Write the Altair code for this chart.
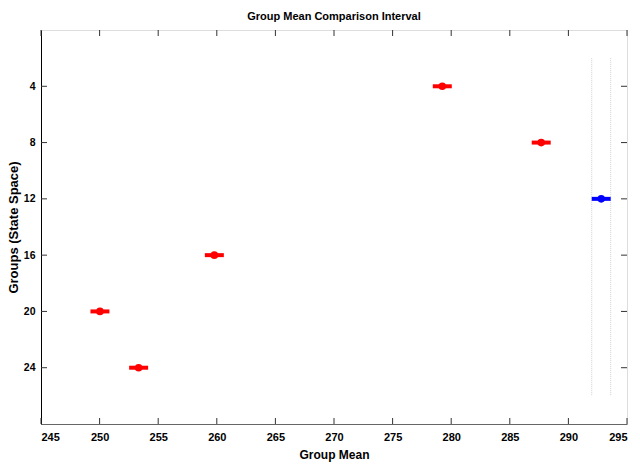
import altair as alt
import pandas as pd

# Group means and comparison intervals
groups = [4, 8, 12, 16, 20, 24]
means = [279.24, 287.68, 292.80, 259.79, 250.03, 253.33]
lower = [278.43, 286.87, 291.99, 258.98, 249.22, 252.52]
upper = [280.05, 288.49, 293.61, 260.60, 250.84, 254.14]
selected = [False, False, True, False, False, False]

x_ticks = [245, 250, 255, 260, 265, 270, 275, 280, 285, 290, 295]
y_ticks = [4, 8, 12, 16, 20, 24]

df = pd.DataFrame({
    "group": groups, "mean": means, "lo": lower, "hi": upper,
    "sel": ["selected" if s else "other" for s in selected],
})

# limits of the selected group's interval, drawn across the groups
sel_idx = selected.index(True)
ref = pd.DataFrame({"x": [lower[sel_idx], upper[sel_idx]], "y0": [2, 2], "y1": [26, 26]})

FONT = "Liberation Sans, Arial, sans-serif"
W, H = 586, 394

xs = alt.Scale(domain=[245, 295], nice=False, zero=False)
ys = alt.Scale(domain=[0, 28], reverse=True, nice=False, zero=False)
color = alt.Scale(domain=["other", "selected"], range=["#ff0000", "#0000ff"])

x_enc = alt.X("mean:Q", scale=xs, title="Group Mean",
              axis=alt.Axis(values=x_ticks, ticks=False, grid=False, domainColor="#666666",
                            labelFont=FONT, labelFontSize=11, labelFontWeight="bold",
                            labelColor="#000", labelPadding=7,
                            titleFont=FONT, titleFontSize=12, titleFontWeight="bold",
                            titleColor="#000", titlePadding=7))
y_enc = alt.Y("group:Q", scale=ys, title="Groups (State Space)",
              axis=alt.Axis(values=y_ticks, ticks=False, grid=False, domainColor="#000",
                            labelFont=FONT, labelFontSize=10.5, labelFontWeight="bold",
                            labelColor="#000", labelPadding=6,
                            titleFont=FONT, titleFontSize=13,
                            titleFontWeight="bold", titleColor="#000",
                            titleX=-21, titleY=H / 2, titleAlign="center",
                            titleBaseline="bottom"))

refs = alt.Chart(ref).mark_rule(color="#d0d0d0", strokeDash=[1, 1], strokeWidth=1).encode(
    x=alt.X("x:Q", scale=xs), y=alt.Y("y0:Q", scale=ys), y2="y1:Q")

bars = alt.Chart(df).mark_rule(strokeWidth=4).encode(
    x=alt.X("lo:Q", scale=xs), x2="hi:Q", y=alt.Y("group:Q", scale=ys),
    color=alt.Color("sel:N", scale=color, legend=None))

points = alt.Chart(df).mark_point(filled=True, size=58, opacity=1).encode(
    x=x_enc, y=y_enc, color=alt.Color("sel:N", scale=color, legend=None))

# inward tick marks on all four sides
xt = pd.DataFrame({"v": x_ticks})
yt = pd.DataFrame({"v": y_ticks})
tick_color = "#333333"
xb = alt.Chart(xt).mark_rule(color=tick_color).encode(
    x=alt.X("v:Q", scale=xs), y=alt.value(H), y2=alt.value(H - 6))
xtp = alt.Chart(xt).mark_rule(color=tick_color).encode(
    x=alt.X("v:Q", scale=xs), y=alt.value(0), y2=alt.value(6))
yl = alt.Chart(yt).mark_rule(color=tick_color).encode(
    y=alt.Y("v:Q", scale=ys), x=alt.value(0), x2=alt.value(6))
yr = alt.Chart(yt).mark_rule(color=tick_color).encode(
    y=alt.Y("v:Q", scale=ys), x=alt.value(W), x2=alt.value(W - 6))

chart = alt.layer(refs, xb, xtp, yl, yr, bars, points).properties(
    width=W, height=H,
    title=alt.TitleParams("Group Mean Comparison Interval", font=FONT, fontSize=11,
                          fontWeight="bold", color="#000", offset=8),
    autosize=alt.AutoSizeParams(type="none"),
    padding={"left": 41, "top": 30, "right": 13, "bottom": 44},
).configure_view(stroke="#444444", strokeWidth=1).configure(background="white")

chart.save("out.html", embed_options={"renderer": "svg", "actions": False})
